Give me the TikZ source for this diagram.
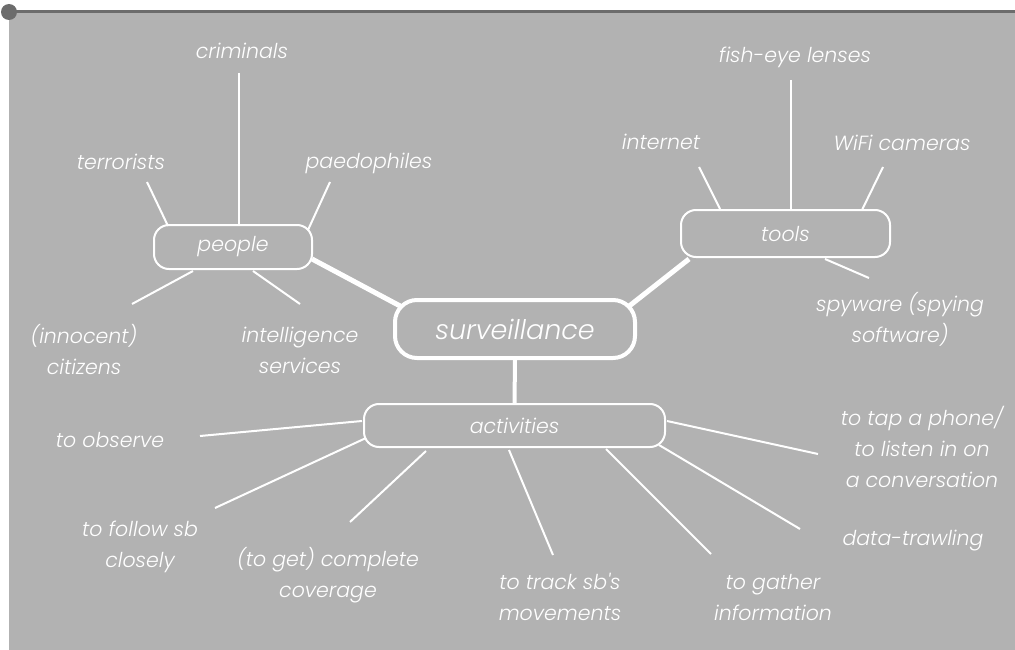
\documentclass[tikz,border=0pt]{standalone}
\usepackage{fontspec}
\newfontfamily\lab{Poppins Light Italic}
\definecolor{bggrey}{RGB}{178,178,178}
\definecolor{topgrey}{RGB}{108,108,108}
\tikzset{
  lbl/.style={text=white, font=\lab\fontsize{20.5}{31}\selectfont, align=center, inner sep=0pt},
  sub/.style={draw=white, line width=2pt, rounded corners=15pt, text=white, font=\lab\fontsize{20.5}{31}\selectfont, inner sep=0pt},
  hub/.style={draw=white, line width=4pt, rounded corners=22pt, text=white, font=\lab\fontsize{27}{34}\selectfont, inner sep=0pt},
  thin/.style={draw=white, line width=2pt},
  thick/.style={draw=white, line width=5pt}
}
\begin{document}
\begin{tikzpicture}[x=1pt,y=-1pt]
\useasboundingbox (0,0) rectangle (1015,650);
\fill[bggrey] (9,12) rectangle (1015,650);
\draw[topgrey, line width=3pt] (9,12) -- (1015,12);
\fill[topgrey] (9,12) circle (8);

% hubs
\node[hub, minimum width=240pt, minimum height=58pt] (surv) at (515,329) {surveillance};
\node[sub, minimum width=158pt, minimum height=44pt] (people) at (233,247) {people};
\node[sub, minimum width=209pt, minimum height=47pt] (tools) at (785.5,233.5) {tools};
\node[sub, minimum width=301pt, minimum height=43pt] (act) at (514.5,425.5) {activities};

% people labels
\node[lbl] (crim) at (242,51) {criminals};
\node[lbl] (terr) at (121,162) {terrorists};
\node[lbl] (paed) at (369,163) {paedophiles};
\node[lbl] (citi) at (84,350) {(innocent)\\citizens};
\node[lbl] (intel) at (300,350) {intelligence\\services};

% tools labels
\node[lbl] (fish) at (795,57) {fish-eye lenses};
\node[lbl] (inet) at (661,142) {internet};
\node[lbl] (wifi) at (902,143) {WiFi cameras};
\node[lbl] (spy) at (900,319) {spyware (spying\\software)};

% activities labels
\node[lbl] (obs) at (110,440) {to observe};
\node[lbl] (foll) at (140,547) {to follow sb\\closely};
\node[lbl] (cov) at (328,575) {(to get) complete\\coverage};
\node[lbl] (track) at (560,597) {to track sb's\\movements};
\node[lbl] (gath) at (773,597) {to gather\\information};
\node[lbl] (data) at (913,541) {data-trawling};
\node[lbl] (tap) at (922,447) {to tap a phone/\\to listen in on\\a conversation};

% connector end points
\coordinate (crimA) at (239,73);   \coordinate (crimB) at (239,225);
\coordinate (terrA) at (147,182);  \coordinate (terrB) at (168,226);
\coordinate (paedA) at (330,182);  \coordinate (paedB) at (308,230);
\coordinate (citiA) at (132,304);  \coordinate (citiB) at (193,271);
\coordinate (intelA) at (300,304); \coordinate (intelB) at (253,271);
\coordinate (pplS) at (312,259);   \coordinate (survP) at (402,307);
\coordinate (fishA) at (791,80);   \coordinate (fishB) at (791,210);
\coordinate (inetA) at (699,167);  \coordinate (inetB) at (720,209);
\coordinate (wifiA) at (883,167);  \coordinate (wifiB) at (862,210);
\coordinate (spyA) at (869,278);   \coordinate (spyB) at (825,259);
\coordinate (toolS) at (689,259);  \coordinate (survT) at (628,307);
\coordinate (obsA) at (200,436);   \coordinate (obsB) at (362,421);
\coordinate (follA) at (215,508);  \coordinate (follB) at (366,438);
\coordinate (covA) at (350,522);   \coordinate (covB) at (426,451);
\coordinate (trackA) at (553,555); \coordinate (trackB) at (509,450);
\coordinate (gathA) at (711,554);  \coordinate (gathB) at (606,449);
\coordinate (dataA) at (800,529);  \coordinate (dataB) at (659,445);
\coordinate (tapA) at (818,454);   \coordinate (tapB) at (667,421);

\draw[thin] (crimA) -- (crimB);
\draw[thin] (terrA) -- (terrB);
\draw[thin] (paedA) -- (paedB);
\draw[thin] (citiA) -- (citiB);
\draw[thin] (intelA) -- (intelB);
\draw[thick] (pplS) -- (survP);
\draw[thin] (fishA) -- (fishB);
\draw[thin] (inetA) -- (inetB);
\draw[thin] (wifiA) -- (wifiB);
\draw[thin] (spyA) -- (spyB);
\draw[thick] (toolS) -- (survT);
\draw[line width=4pt, white] (surv.south) -- (act.north);
\draw[thin] (obsA) -- (obsB);
\draw[thin] (follA) -- (follB);
\draw[thin] (covA) -- (covB);
\draw[thin] (trackA) -- (trackB);
\draw[thin] (gathA) -- (gathB);
\draw[thin] (dataA) -- (dataB);
\draw[thin] (tapA) -- (tapB);
\end{tikzpicture}
\end{document}
